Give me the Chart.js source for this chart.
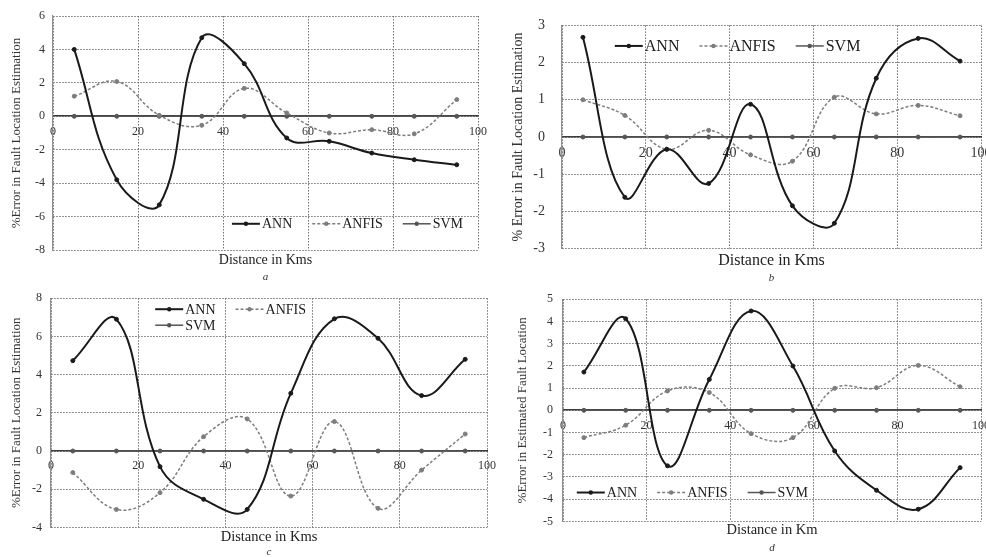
<!DOCTYPE html>
<html>
<head>
<meta charset="utf-8">
<script src="https://cdn.jsdelivr.net/npm/chart.js@4"></script>
<style>
    body { margin: 0; background: #fff; width: 986px; height: 557px; position: relative; overflow: hidden; }
    canvas { position: absolute; }
    #grafico_a { left: 0; top: 0; }
    #grafico_b { left: 490px; top: 0; }
    #grafico_c { left: 0; top: 282px; }
    #grafico_d { left: 490px; top: 282px; }
</style>
</head>
<body>
<canvas id="grafico_a" width="490" height="284"></canvas>
<canvas id="grafico_b" width="496" height="290"></canvas>
<canvas id="grafico_c" width="500" height="278"></canvas>
<canvas id="grafico_d" width="496" height="278"></canvas>
<script>
// distancias (km) onde cada falta foi simulada
const distancias = [5, 15, 25, 35, 45, 55, 65, 75, 85, 95];

const annA = [4.0, -3.8, -5.3, 4.7, 3.15, -1.3, -1.5, -2.2, -2.6, -2.9];
const anfisA = [1.2, 2.08, 0.06, -0.54, 1.67, 0.2, -1.0, -0.8, -1.05, 1.0];
const svmA = [0, 0, 0, 0, 0, 0, 0, 0, 0, 0];

const annB = [2.68, -1.62, -0.33, -1.25, 0.88, -1.85, -2.32, 1.58, 2.65, 2.04];
const anfisB = [1.0, 0.58, -0.33, 0.18, -0.48, -0.65, 1.07, 0.62, 0.85, 0.57];
const svmB = [0, 0, 0, 0, 0, 0, 0, 0, 0, 0];

const annC = [4.73, 6.9, -0.82, -2.53, -3.06, 3.02, 6.92, 5.9, 2.9, 4.8];
const anfisC = [-1.13, -3.06, -2.18, 0.75, 1.68, -2.36, 1.54, -3.0, -1.0, 0.89];
const svmC = [0, 0, 0, 0, 0, 0, 0, 0, 0, 0];

const annD = [1.72, 4.12, -2.5, 1.39, 4.47, 1.99, -1.83, -3.6, -4.45, -2.58];
const anfisD = [-1.23, -0.67, 0.87, 0.8, -1.05, -1.23, 0.99, 1.02, 2.02, 1.06];
const svmD = [0, 0, 0, 0, 0, 0, 0, 0, 0, 0];

// [min, max, passo]
const eixoX = [0, 100, 20];
const eixoYA = [-8, 6, 2];
const eixoYB = [-3, 3, 1];
const eixoYC = [-4, 8, 2];
const eixoYD = [-5, 5, 1];

const nomesSeries = ['ANN', 'ANFIS', 'SVM'];
const titulosY = [
    '%Error in Fault Location Estimation',
    '% Error in Fault Location Estimation',
    '%Error in Fault Location Estimation',
    '%Error in Estimated Fault Location'
];
const titulosX = ['Distance in Kms', 'Distance in Kms', 'Distance in Kms', 'Distance in Km'];
const letras = ['a', 'b', 'c', 'd'];

const fonte = '"Liberation Serif", "Times New Roman", serif';

// legenda desenhada dentro da area do grafico
const legendaInterna = {
    id: 'legendaInterna',
    afterDatasetsDraw(chart, args, opts) {
        const ctx = chart.ctx;
        const area = chart.chartArea;
        ctx.save();
        ctx.font = opts.tamanho + 'px ' + fonte;
        ctx.textBaseline = 'middle';
        opts.linhas.forEach(function (linha, i) {
            let x = area.left + area.width * opts.x;
            const y = area.top + area.height * opts.y + i * opts.entreLinhas;
            linha.forEach(function (indice) {
                const ds = chart.data.datasets[indice];
                ctx.strokeStyle = ds.borderColor;
                ctx.lineWidth = ds.borderWidth;
                ctx.setLineDash(ds.borderDash);
                ctx.beginPath();
                ctx.moveTo(x, y);
                ctx.lineTo(x + 28, y);
                ctx.stroke();
                ctx.setLineDash([]);
                ctx.fillStyle = ds.pointBackgroundColor;
                ctx.beginPath();
                ctx.arc(x + 14, y, 2.2, 0, Math.PI * 2);
                ctx.fill();
                ctx.fillStyle = '#1c1c1c';
                ctx.fillText(ds.label, x + 30, y + 1);
                x += 30 + ctx.measureText(ds.label).width + opts.espaco;
            });
        });
        ctx.restore();
    }
};

function pontos(valores) {
    return distancias.map(function (d, i) {
        return { x: d, y: valores[i] };
    });
}

function serie(nome, valores, cor, tracejado, espessura) {
    return {
        label: nome,
        data: pontos(valores),
        borderColor: cor,
        backgroundColor: cor,
        pointBackgroundColor: cor,
        pointBorderColor: cor,
        borderDash: tracejado,
        borderWidth: espessura,
        pointRadius: 2,
        pointBorderWidth: 1,
        tension: 0.4
    };
}

function criarGrafico(id, ann, anfis, svm, eixoY, n, ajuste) {
    return new Chart(document.getElementById(id), {
        type: 'line',
        data: {
            datasets: [
                serie(nomesSeries[0], ann, '#1a1a1a', [], 2),
                serie(nomesSeries[1], anfis, '#7d7d7d', [3, 2], 1.5),
                serie(nomesSeries[2], svm, '#555', [], 1.5)
            ]
        },
        plugins: [legendaInterna],
        options: {
            responsive: false,
            animation: false,
            layout: {
                padding: { left: ajuste.esquerda, right: ajuste.direita, top: ajuste.topo, bottom: ajuste.baixo }
            },
            scales: {
                x: {
                    type: 'linear',
                    min: eixoX[0],
                    max: eixoX[1],
                    position: { y: 0 },
                    afterFit: function (escala) {
                        escala.height = 0;
                        escala.paddingLeft = 0;
                        escala.paddingRight = 0;
                    },
                    ticks: {
                        stepSize: eixoX[2],
                        color: '#333',
                        padding: 8,
                        font: { family: fonte, size: ajuste.fonteTicks }
                    },
                    grid: { color: '#707070', lineWidth: 1, drawTicks: false },
                    border: { display: true, color: '#3c3c3c', width: 1.6, dash: [1.5, 1.5] }
                },
                y: {
                    min: eixoY[0],
                    max: eixoY[1],
                    afterFit: function (escala) {
                        escala.width = ajuste.largura;
                    },
                    ticks: {
                        stepSize: eixoY[2],
                        color: '#333',
                        padding: ajuste.tickPad,
                        font: { family: fonte, size: ajuste.fonteTicks }
                    },
                    grid: { color: '#707070', lineWidth: 1, drawTicks: false },
                    border: { display: true, color: '#8f8f8f', width: 1.2, dash: [1.5, 1.5] },
                    title: {
                        display: true,
                        text: titulosY[n],
                        color: '#333',
                        font: { family: fonte, size: ajuste.fonteTituloY }
                    }
                }
            },
            plugins: {
                legend: { display: false },
                tooltip: { enabled: false },
                title: {
                    display: true,
                    text: titulosX[n],
                    position: 'bottom',
                    fullSize: false,
                    color: '#222',
                    font: { family: fonte, size: ajuste.fonteTituloX, weight: 'normal' },
                    padding: { top: ajuste.tituloPad, bottom: 0 }
                },
                subtitle: {
                    display: true,
                    text: letras[n],
                    position: 'bottom',
                    weight: 2500,
                    fullSize: false,
                    color: '#333',
                    font: { family: fonte, size: 11, style: 'italic' },
                    padding: { top: ajuste.letraPad, bottom: 0 }
                },
                legendaInterna: ajuste.legenda
            }
        }
    });
}

criarGrafico('grafico_a', annA, anfisA, svmA, eixoYA, 0, {
    esquerda: 5, largura: 48, direita: 12, topo: 16, baixo: 0,
    fonteTicks: 12, fonteTituloY: 13, fonteTituloX: 14, tickPad: 8, tituloPad: 2, letraPad: 2,
    legenda: { x: 0.421, y: 0.888, tamanho: 14, espaco: 20, entreLinhas: 16, linhas: [[0, 1, 2]] }
});

criarGrafico('grafico_b', annB, anfisB, svmB, eixoYB, 1, {
    esquerda: 16, largura: 56, direita: 3, topo: 10, baixo: 5,
    fonteTicks: 14, fonteTituloY: 14, fonteTituloX: 16, tickPad: 17, tituloPad: 3, letraPad: 1,
    legenda: { x: 0.126, y: 0.092, tamanho: 16, espaco: 20, entreLinhas: 16, linhas: [[0, 1, 2]] }
});

criarGrafico('grafico_c', annC, anfisC, svmC, eixoYC, 2, {
    esquerda: 5, largura: 46, direita: 13, topo: 16, baixo: 1,
    fonteTicks: 12, fonteTituloY: 13, fonteTituloX: 14.5, tickPad: 9, tituloPad: 1, letraPad: 0,
    legenda: { x: 0.239, y: 0.048, tamanho: 14, espaco: 20, entreLinhas: 16, linhas: [[0, 1], [2]] }
});

criarGrafico('grafico_d', annD, anfisD, svmD, eixoYD, 3, {
    esquerda: 21, largura: 52, direita: 4, topo: 16, baixo: 5,
    fonteTicks: 12, fonteTituloY: 13, fonteTituloX: 14.5, tickPad: 10, tituloPad: 0, letraPad: 3,
    legenda: { x: 0.033, y: 0.87, tamanho: 14, espaco: 20, entreLinhas: 16, linhas: [[0, 1, 2]] }
});
</script>
</body>
</html>
